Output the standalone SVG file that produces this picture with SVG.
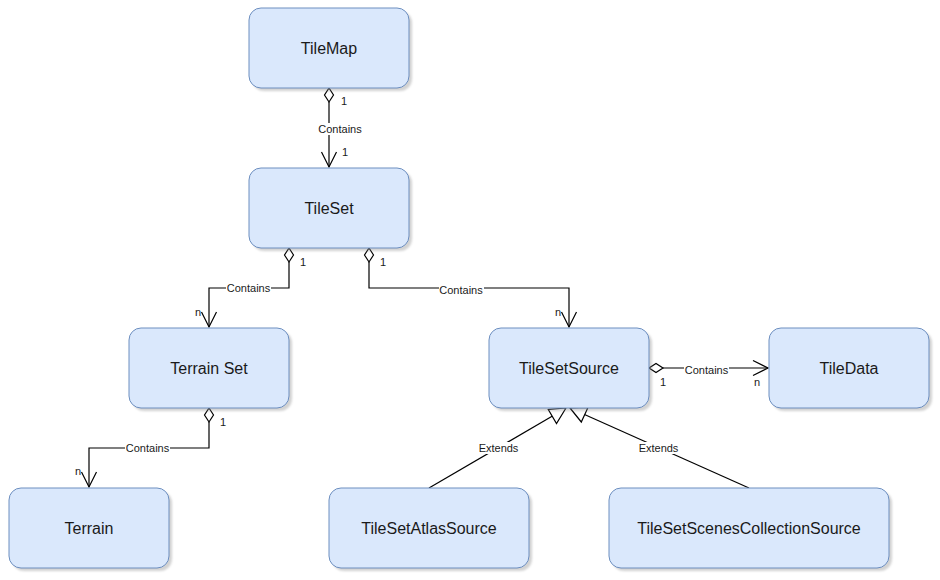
<svg xmlns="http://www.w3.org/2000/svg" width="940" height="580" viewBox="0 0 940 580">
<defs>
<style>
.box{fill:#dae8fc;stroke:#6c8ebf;stroke-width:1}
.sh{fill:#808080;opacity:0.35}
.nt{font-family:"Liberation Sans",Arial,sans-serif;font-size:16px;fill:#1a1a1a;text-anchor:middle;dominant-baseline:central}
.ln{fill:none;stroke:#000;stroke-width:1.2}
.lb{font-family:"Liberation Sans",Arial,sans-serif;font-size:11px;fill:#1a1a1a;text-anchor:middle;dominant-baseline:central}
.ct{font-family:"Liberation Sans",Arial,sans-serif;font-size:11px;fill:#1a1a1a;dominant-baseline:central}
.bg{fill:#fff}
.dia{fill:#fff;stroke:#000;stroke-width:1.2}
.arr{fill:none;stroke:#000;stroke-width:1.2}
</style>
<filter id="blur" x="-10%" y="-10%" width="120%" height="130%"><feGaussianBlur stdDeviation="1"/></filter>
</defs>

<g id="connectors">
  <!-- TileMap -> TileSet -->
  <g id="c1">
    <line class="ln" x1="329" y1="102" x2="329" y2="167"/>
    <path class="dia" d="M329,88 L333.5,95 L329,102 L324.5,95 Z"/>
    <path class="arr" d="M321.5,152 L329,167 L336.5,152"/>
    <rect class="bg" x="317" y="123" width="46" height="12"/>
    <text class="lb" x="340" y="129">Contains</text>
    <text class="ct" x="341" y="101">1</text>
    <text class="ct" x="342" y="152">1</text>
  </g>
  <!-- TileSet -> Terrain Set -->
  <g id="c2">
    <path class="ln" d="M289,262 V288 H209 V327"/>
    <path class="dia" d="M289,248 L293.5,255 L289,262 L284.5,255 Z"/>
    <path class="arr" d="M201.5,312 L209,327 L216.5,312"/>
    <rect class="bg" x="226" y="282" width="45" height="12"/>
    <text class="lb" x="248.5" y="288">Contains</text>
    <text class="ct" x="300" y="262">1</text>
    <text class="ct" x="195" y="312">n</text>
  </g>
  <!-- TileSet -> TileSetSource -->
  <g id="c3">
    <path class="ln" d="M369,262 V288 H569 V327"/>
    <path class="dia" d="M369,248 L373.5,255 L369,262 L364.5,255 Z"/>
    <path class="arr" d="M561.5,312 L569,327 L576.5,312"/>
    <rect class="bg" x="439" y="284" width="45" height="12"/>
    <text class="lb" x="461" y="290">Contains</text>
    <text class="ct" x="380" y="262">1</text>
    <text class="ct" x="555" y="312">n</text>
  </g>
  <!-- TileSetSource -> TileData -->
  <g id="c4">
    <line class="ln" x1="663" y1="368" x2="768" y2="368"/>
    <path class="dia" d="M649,368 L656,363.5 L663,368 L656,372.5 Z"/>
    <path class="arr" d="M753,360.5 L768,368 L753,375.5"/>
    <rect class="bg" x="684" y="364" width="45" height="12"/>
    <text class="lb" x="706.5" y="370">Contains</text>
    <text class="ct" x="660" y="382">1</text>
    <text class="ct" x="754" y="382">n</text>
  </g>
  <!-- Terrain Set -> Terrain -->
  <g id="c5">
    <path class="ln" d="M209,422 V448 H89 V487"/>
    <path class="dia" d="M209,408 L213.5,415 L209,422 L204.5,415 Z"/>
    <path class="arr" d="M81.5,472 L89,487 L96.5,472"/>
    <rect class="bg" x="125" y="442" width="45" height="12"/>
    <text class="lb" x="147.5" y="448">Contains</text>
    <text class="ct" x="220" y="422">1</text>
    <text class="ct" x="75" y="471">n</text>
  </g>
  <!-- TileSetAtlasSource extends TileSetSource -->
  <g id="c6">
    <line class="ln" x1="429" y1="488" x2="552.5" y2="416"/>
    <path class="dia" d="M566,408 L556.5,423.5 L548.3,409.5 Z"/>
    <rect class="bg" x="478" y="442" width="41" height="12"/>
    <text class="lb" x="498.5" y="448">Extends</text>
  </g>
  <!-- TileSetScenesCollectionSource extends TileSetSource -->
  <g id="c7">
    <line class="ln" x1="749" y1="488" x2="584.5" y2="414.5"/>
    <path class="dia" d="M570,408 L588,407.5 L581.3,422 Z"/>
    <rect class="bg" x="638" y="442" width="41" height="12"/>
    <text class="lb" x="658.5" y="448">Extends</text>
  </g>
</g>

<g id="TileMap">
  <rect class="sh" filter="url(#blur)" x="252" y="11" width="160" height="80" rx="12"/>
  <rect class="box" x="249" y="8" width="160" height="80" rx="12"/>
  <text class="nt" x="329" y="48">TileMap</text>
</g>
<g id="TileSet">
  <rect class="sh" filter="url(#blur)" x="252" y="171" width="160" height="80" rx="12"/>
  <rect class="box" x="249" y="168" width="160" height="80" rx="12"/>
  <text class="nt" x="329" y="208">TileSet</text>
</g>
<g id="TerrainSet">
  <rect class="sh" filter="url(#blur)" x="132" y="331" width="160" height="80" rx="12"/>
  <rect class="box" x="129" y="328" width="160" height="80" rx="12"/>
  <text class="nt" x="209" y="368">Terrain Set</text>
</g>
<g id="TileSetSource">
  <rect class="sh" filter="url(#blur)" x="492" y="331" width="160" height="80" rx="12"/>
  <rect class="box" x="489" y="328" width="160" height="80" rx="12"/>
  <text class="nt" x="569" y="368">TileSetSource</text>
</g>
<g id="TileData">
  <rect class="sh" filter="url(#blur)" x="772" y="331" width="160" height="80" rx="12"/>
  <rect class="box" x="769" y="328" width="160" height="80" rx="12"/>
  <text class="nt" x="849" y="368">TileData</text>
</g>
<g id="Terrain">
  <rect class="sh" filter="url(#blur)" x="12" y="491" width="160" height="80" rx="12"/>
  <rect class="box" x="9" y="488" width="160" height="80" rx="12"/>
  <text class="nt" x="89" y="528">Terrain</text>
</g>
<g id="TileSetAtlasSource">
  <rect class="sh" filter="url(#blur)" x="332" y="491" width="200" height="80" rx="12"/>
  <rect class="box" x="329" y="488" width="200" height="80" rx="12"/>
  <text class="nt" x="429" y="528">TileSetAtlasSource</text>
</g>
<g id="TileSetScenesCollectionSource">
  <rect class="sh" filter="url(#blur)" x="612" y="491" width="280" height="80" rx="12"/>
  <rect class="box" x="609" y="488" width="280" height="80" rx="12"/>
  <text class="nt" x="749" y="528">TileSetScenesCollectionSource</text>
</g>
</svg>
